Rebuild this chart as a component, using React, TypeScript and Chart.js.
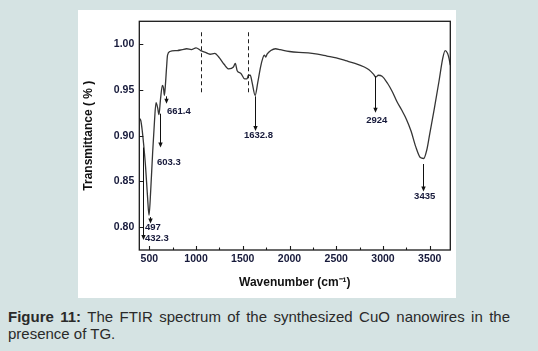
import React, { useEffect, useRef } from "react";
import { Chart, registerables } from "chart.js";
Chart.register(...registerables);

// ---- data ----
const wavenumber = [
  393, 410, 425, 440, 460, 480, 497, 515, 535, 555, 572, 590, 603, 620, 640, 652, 661, 672, 685, 695,
  720, 800, 850, 900, 950, 1000, 1050, 1100, 1150, 1200, 1250, 1300, 1350, 1400, 1420, 1440, 1480,
  1520, 1545, 1560, 1580, 1600, 1632, 1660, 1690, 1715, 1730, 1745, 1760, 1800, 1850, 1900, 2000,
  2100, 2200, 2300, 2400, 2500, 2600, 2700, 2800, 2850, 2900, 2924, 2950, 2990, 3050, 3100, 3150,
  3200, 3250, 3300, 3350, 3400, 3435, 3470, 3500, 3550, 3600, 3640, 3665, 3690, 3705, 3720,
];
const transmittance = [
  0.919, 0.916, 0.905, 0.89, 0.866, 0.835, 0.813, 0.84, 0.88, 0.915, 0.936, 0.93, 0.923, 0.94, 0.955,
  0.952, 0.944, 0.955, 0.975, 0.988, 0.992, 0.993, 0.994, 0.995, 0.994, 0.996, 0.993, 0.991, 0.989,
  0.99, 0.985, 0.978, 0.973, 0.975, 0.979, 0.971, 0.968, 0.962, 0.962, 0.966, 0.966, 0.958, 0.944,
  0.958, 0.975, 0.985, 0.988, 0.986, 0.989, 0.993, 0.995, 0.994, 0.992, 0.991, 0.9905, 0.989, 0.987,
  0.985, 0.982, 0.979, 0.975, 0.972, 0.967, 0.964, 0.966, 0.965, 0.957, 0.948, 0.937, 0.928, 0.918,
  0.905, 0.888, 0.876, 0.875, 0.885, 0.902, 0.93, 0.96, 0.985, 0.993, 0.99, 0.985, 0.977,
];

const xTickValues = [500, 1000, 1500, 2000, 2500, 3000, 3500];
const xMinorTickValues = [750, 1250, 1750, 2250, 2750, 3250];
const yTickValues = [0.8, 0.85, 0.9, 0.95, 1.0];

const peakLabels = ["432.3", "497", "603.3", "661.4", "1632.8", "2924", "3435"];
const arrowX = [429, 512, 614, 679, 1631, 2915, 3431];
const arrowFrom = [0.887, 0.811, 0.924, 0.943, 0.943, 0.965, 0.869];
const arrowTo = [0.786, 0.804, 0.887, 0.935, 0.905, 0.925, 0.839];
const labelX = [454, 454, 709, 816, 1668, 2933, 3446];
const labelY = [0.788, 0.7996, 0.871, 0.926, 0.9, 0.917, 0.834];
const labelAlign = ["left", "left", "center", "center", "center", "center", "center"];

const dashedX = [1050, 1553];
const dashedTop = [1.013, 1.013];
const dashedBottom = [0.947, 0.946];

const TEXT = "#16193a";
const FONT = "'Liberation Sans', Arial, sans-serif";

const overlayPlugin = {
  id: "overlay",
  afterDatasetsDraw(chart: any) {
    const { ctx, chartArea: a, scales } = chart;
    const x = scales.x;
    const y = scales.y;
    ctx.save();
    // frame
    ctx.strokeStyle = "#1a1a1a";
    ctx.lineWidth = 1.3;
    ctx.strokeRect(a.left, a.top, a.right - a.left, a.bottom - a.top);
    // inward ticks
    ctx.lineWidth = 1.1;
    ctx.beginPath();
    xTickValues.forEach((v) => {
      const px = Math.round(x.getPixelForValue(v)) + 0.5;
      ctx.moveTo(px, a.bottom);
      ctx.lineTo(px, a.bottom - 4);
    });
    xMinorTickValues.forEach((v) => {
      const px = Math.round(x.getPixelForValue(v)) + 0.5;
      ctx.moveTo(px, a.bottom);
      ctx.lineTo(px, a.bottom - 2.5);
    });
    yTickValues.forEach((v) => {
      const py = Math.round(y.getPixelForValue(v)) + 0.5;
      ctx.moveTo(a.left, py);
      ctx.lineTo(a.left + 4, py);
    });
    ctx.stroke();
    // dashed markers
    ctx.setLineDash([4, 3]);
    ctx.lineWidth = 1;
    ctx.strokeStyle = "#222";
    dashedX.forEach((v, i) => {
      const px = Math.round(x.getPixelForValue(v)) + 0.5;
      ctx.beginPath();
      ctx.moveTo(px, y.getPixelForValue(dashedTop[i]));
      ctx.lineTo(px, y.getPixelForValue(dashedBottom[i]));
      ctx.stroke();
    });
    ctx.setLineDash([]);
    // arrows
    ctx.strokeStyle = "#111";
    ctx.fillStyle = "#111";
    ctx.lineWidth = 1;
    arrowX.forEach((v, i) => {
      const px = Math.round(x.getPixelForValue(v)) + 0.5;
      const y1 = y.getPixelForValue(arrowFrom[i]);
      const y2 = y.getPixelForValue(arrowTo[i]);
      ctx.beginPath();
      ctx.moveTo(px, y1);
      ctx.lineTo(px, y2 - 3);
      ctx.stroke();
      ctx.beginPath();
      ctx.moveTo(px - 2.2, y2 - 5);
      ctx.lineTo(px + 2.2, y2 - 5);
      ctx.lineTo(px, y2);
      ctx.closePath();
      ctx.fill();
    });
    // labels
    ctx.fillStyle = TEXT;
    ctx.font = `bold 9.5px ${FONT}`;
    ctx.textBaseline = "middle";
    peakLabels.forEach((t, i) => {
      ctx.textAlign = labelAlign[i] as CanvasTextAlign;
      ctx.fillText(t, x.getPixelForValue(labelX[i]), y.getPixelForValue(labelY[i]));
    });
    ctx.restore();
  },
};

export default function App() {
  const ref = useRef<HTMLCanvasElement | null>(null);
  useEffect(() => {
    if (!ref.current) return;
    const chart = new Chart(ref.current, {
      type: "line",
      data: {
        datasets: [
          {
            data: wavenumber.map((w, i) => ({ x: w, y: transmittance[i] })),
            borderColor: "#353535",
            borderWidth: 1.3,
            pointRadius: 0,
            cubicInterpolationMode: "monotone",
            fill: false,
          },
        ],
      },
      options: {
        animation: false,
        responsive: false,
        devicePixelRatio: 1,
        layout: { padding: { top: 5.5, right: 5.7, bottom: 0, left: 0 } },
        plugins: { legend: { display: false }, tooltip: { enabled: false } },
        scales: {
          x: {
            type: "linear",
            min: 393,
            max: 3720,
            afterBuildTicks: (s: any) => {
              s.ticks = xTickValues.map((v) => ({ value: v }));
            },
            afterFit: (s: any) => {
              s.height = 48;
            },
            grid: { display: false, drawTicks: false },
            border: { display: false },
            ticks: {
              autoSkip: false,
              maxRotation: 0,
              padding: 3,
              color: TEXT,
              font: { family: FONT, size: 10.5, weight: "bold" },
              callback: (v: any) => String(v),
            },
            title: {
              display: true,
              text: "Wavenumber (cm⁻¹)",
              color: "#111",
              font: { family: FONT, size: 12, weight: "bold" },
              padding: { top: 0, bottom: 7.8 },
            },
          },
          y: {
            type: "linear",
            min: 0.775,
            max: 1.025,
            afterBuildTicks: (s: any) => {
              s.ticks = yTickValues.map((v) => ({ value: v }));
            },
            afterFit: (s: any) => {
              s.width = 61.3;
            },
            grid: { display: false, drawTicks: false },
            border: { display: false },
            ticks: {
              padding: 5,
              color: TEXT,
              font: { family: FONT, size: 10.5, weight: "bold" },
              callback: (v: any) => Number(v).toFixed(2),
            },
            title: {
              display: true,
              text: "Transmittance ( % )",
              color: "#111",
              font: { family: FONT, size: 12, weight: "bold" },
              padding: { top: 3, bottom: 0 },
            },
          },
        },
      },
      plugins: [overlayPlugin],
    } as any);
    return () => chart.destroy();
  }, []);

  return (
    <div
      style={{
        position: "fixed",
        left: 0,
        top: 0,
        width: 538,
        height: 351,
        background: "#d5e3e3",
        fontFamily: FONT,
      }}
    >
      <div
        style={{
          position: "absolute",
          left: 78,
          top: 10,
          width: 378,
          height: 288,
          background: "#ffffff",
        }}
      >
        <canvas ref={ref} width={378} height={288} style={{ display: "block" }} />
      </div>
      <div
        style={{
          position: "absolute",
          left: 8,
          top: 308,
          width: 502,
          fontSize: 15,
          lineHeight: "17px",
          textAlign: "justify",
          color: "#2a2a2a",
        }}
      >
        <b>Figure 11:</b> The FTIR spectrum of the synthesized CuO nanowires in the presence of TG.
      </div>
    </div>
  );
}
